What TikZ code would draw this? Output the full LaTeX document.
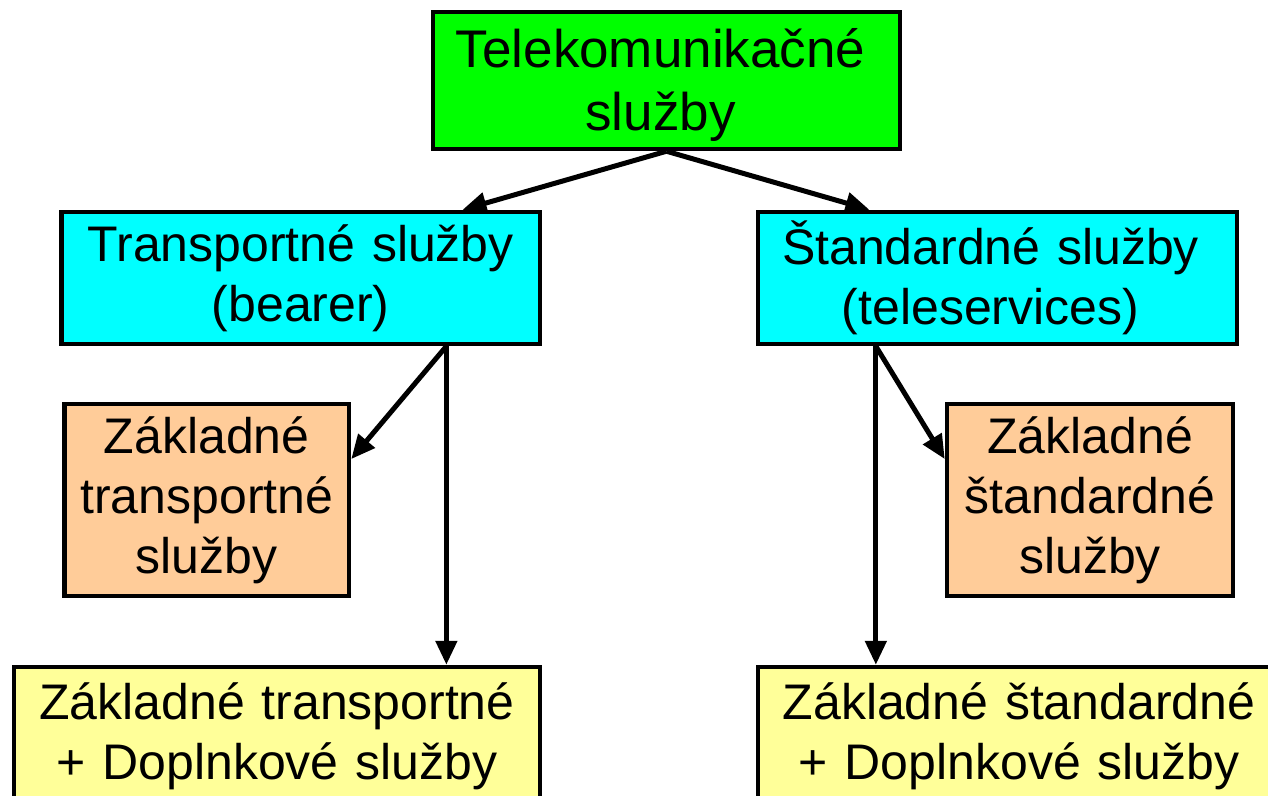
\documentclass[tikz,border=0pt]{standalone}
\usepackage{fontspec}
\setmainfont{Liberation Sans}
\usetikzlibrary{arrows.meta,calc}
\definecolor{cgreen}{RGB}{0,255,0}
\definecolor{ccyan}{RGB}{0,255,255}
\definecolor{corange}{RGB}{255,204,153}
\definecolor{cyellow}{RGB}{255,255,153}
\begin{document}
\begin{tikzpicture}[x=0.5pt,y=-0.5pt,
  box/.style={draw=black, line width=2.25pt, inner sep=0pt, align=center,
    text width=#1, font=\fontsize{25}{30}\selectfont},
  conn/.style={line width=2.5pt, -{Triangle[length=12pt,width=10.5pt]}}]
\useasboundingbox (0,0) rectangle (1268,796);
\clip (0,0) rectangle (1268,796);
\node[box=230pt, fill=cgreen, minimum width=233.5pt, minimum height=68.5pt,
  font=\fontsize{26.5}{31.5}\selectfont] (tel) at (666.5,80.5) {\rule{0pt}{23.6pt}Telekomunikačné\rule{6pt}{0pt}\\služby\rule{6pt}{0pt}};
\node[box=235pt, fill=ccyan, minimum width=239.25pt, minimum height=66pt] (tra) at (300.75,278) {Transportné služby\\(bearer)};
\node[box=235pt, fill=ccyan, minimum width=239.5pt, minimum height=66pt] (std) at (997.5,278) {Štandardné služby\rule{7pt}{0pt}\\(teleservices)\rule{7pt}{0pt}};
\node[box=140pt, fill=corange, minimum width=142.25pt, minimum height=96pt] (ztr) at (206.75,500) {Základné\\transportné\\služby};
\node[box=140pt, fill=corange, minimum width=143pt, minimum height=96pt] (zst) at (1090,500) {Základné\\štandardné\\služby};
\node[box=260pt, fill=cyellow, minimum width=263pt, minimum height=69.5pt] (yl) at (277,736.5) {Základné transportné\\+ Doplnkové služby};
\node[box=258pt, fill=cyellow, minimum width=261pt, minimum height=69.5pt] (yr) at (1019,736.5) {Základné štandardné\\+ Doplnkové služby};
\coordinate (t1) at ($(tra.north west)!0.835!(tra.north east)$);
\coordinate (s1) at ($(std.north west)!0.235!(std.north east)$);
\coordinate (ta) at ($(tra.south west)!0.8015!(tra.south east)$);
\coordinate (sa) at ($(std.south west)!0.2484!(std.south east)$);
\draw[conn] (tel.south) -- (t1);
\draw[conn] (tel.south) -- (s1);
\draw[conn] (ta) -- ($(ztr.north east)!0.2917!(ztr.south east)$);
\draw[conn] (ta) -- (ta |- yl.north);
\draw[conn] (sa) -- ($(zst.north west)!0.2917!(zst.south west)$);
\draw[conn] (sa) -- (sa |- yr.north);
\end{tikzpicture}
\end{document}
